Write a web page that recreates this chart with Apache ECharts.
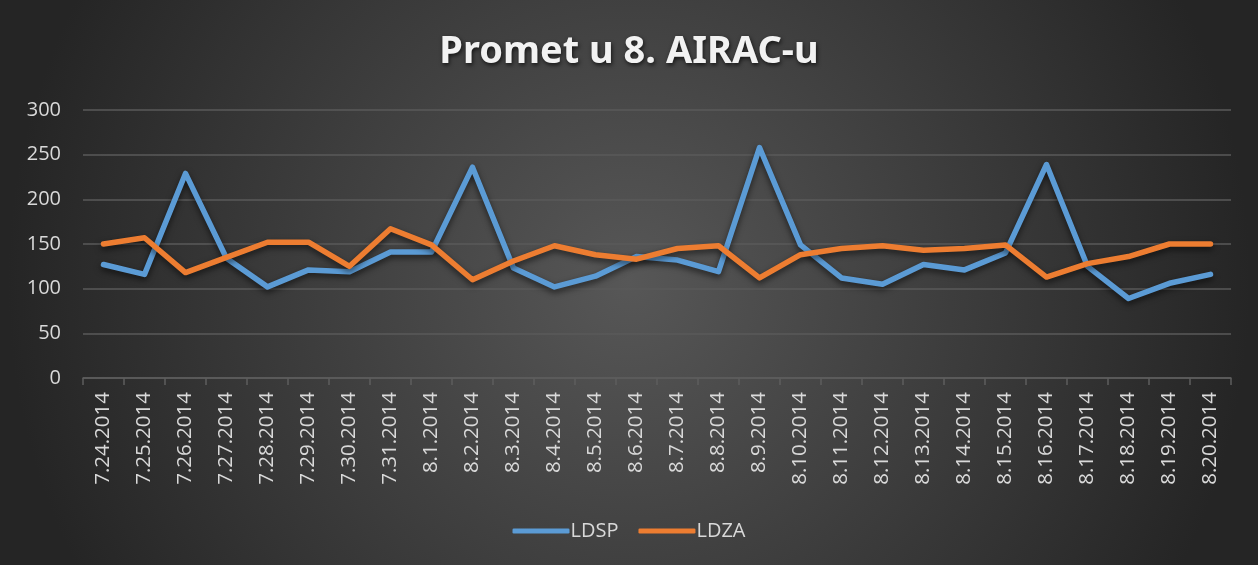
<!DOCTYPE html>
<html>
<head>
<meta charset="utf-8">
<script src="https://cdn.jsdelivr.net/npm/echarts@6/dist/echarts.min.js"></script>
<style>
  html, body { margin: 0; padding: 0; background: #2b2b2b; }
  #chart { width: 1258px; height: 565px; }
</style>
</head>
<body>
<div id="chart"></div>
<script>
var dates = ['7.24.2014', '7.25.2014', '7.26.2014', '7.27.2014', '7.28.2014', '7.29.2014', '7.30.2014',
  '7.31.2014', '8.1.2014', '8.2.2014', '8.3.2014', '8.4.2014', '8.5.2014', '8.6.2014', '8.7.2014',
  '8.8.2014', '8.9.2014', '8.10.2014', '8.11.2014', '8.12.2014', '8.13.2014', '8.14.2014', '8.15.2014',
  '8.16.2014', '8.17.2014', '8.18.2014', '8.19.2014', '8.20.2014'];
var ldsp = [127, 116, 229, 134, 102, 121, 119, 141, 141, 236, 123, 102, 114, 136, 132, 119, 258, 149,
  112, 105, 127, 121, 140, 239, 125, 89, 106, 116];
var ldza = [150, 157, 118, 135, 152, 152, 125, 167, 149, 110, 131, 148, 138, 133, 145, 148, 112, 138,
  145, 148, 143, 145, 149, 113, 128, 136, 150, 150];
var yTicks = { min: 0, max: 300, step: 50 };

var myChart = echarts.init(document.getElementById('chart'));
var textColor = '#d9d9d9';

function lineSeries(name, data, color) {
  return {
    name: name,
    type: 'line',
    data: data,
    symbol: 'none',
    lineStyle: {
      color: color,
      width: 5.5,
      cap: 'round',
      join: 'round',
      shadowColor: 'rgba(0,0,0,0.6)',
      shadowBlur: 6,
      shadowOffsetY: 3
    },
    itemStyle: { color: color }
  };
}

myChart.setOption({
  animation: false,
  backgroundColor: {
    type: 'radial', x: 0.5, y: 0.5, r: 1.1,
    colorStops: [
      { offset: 0, color: '#575757' },
      { offset: 1, color: '#252525' }
    ]
  },
  title: {
    text: 'Promet u 8. AIRAC-u',
    left: 'center',
    top: 28,
    textStyle: {
      color: '#f2f2f2',
      fontFamily: 'Noto Sans',
      fontWeight: 'bold',
      fontSize: 38,
      textShadowColor: 'rgba(0,0,0,0.7)',
      textShadowBlur: 4,
      textShadowOffsetX: 1,
      textShadowOffsetY: 2
    }
  },
  legend: {
    bottom: 19,
    left: 'center',
    icon: 'roundRect',
    itemWidth: 57,
    itemHeight: 5,
    itemGap: 20,
    textStyle: { color: textColor, fontSize: 20, fontFamily: 'Open Sans', padding: [0, 0, 0, -4] },
    data: ['LDSP', 'LDZA']
  },
  grid: { left: 83, right: 27, top: 110, bottom: 187 },
  xAxis: {
    type: 'category',
    data: dates,
    axisLine: { lineStyle: { color: '#5e5e5e', width: 1.5 } },
    axisTick: { show: true, length: 7, lineStyle: { color: '#5e5e5e', width: 1.5 } },
    axisLabel: {
      rotate: 90,
      interval: 0,
      color: textColor,
      fontSize: 20.5,
      fontFamily: 'Open Sans',
      margin: 14
    }
  },
  yAxis: {
    type: 'value',
    min: yTicks.min,
    max: yTicks.max,
    interval: yTicks.step,
    axisLine: { show: false },
    axisTick: { show: false },
    axisLabel: { color: textColor, fontSize: 20, fontFamily: 'Open Sans', margin: 22 },
    splitLine: { lineStyle: { color: '#5a5a5a', width: 1.5 } }
  },
  series: [
    lineSeries('LDSP', ldsp, '#5b9bd5'),
    lineSeries('LDZA', ldza, '#ed7d31')
  ]
});
</script>
</body>
</html>
